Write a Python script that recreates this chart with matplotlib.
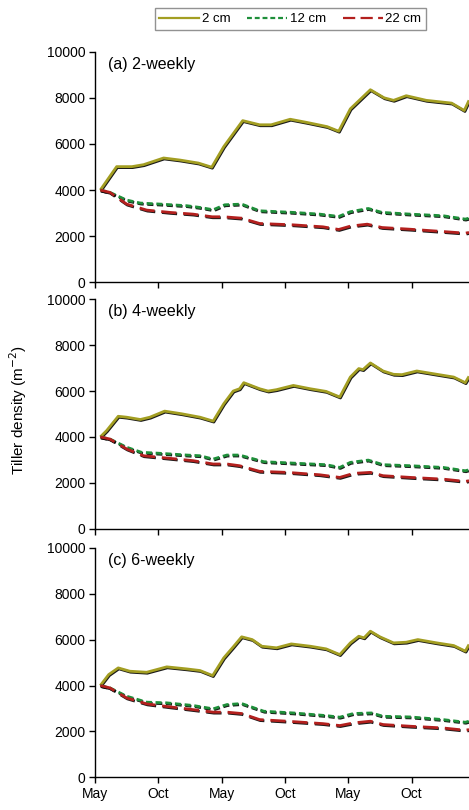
import matplotlib
matplotlib.use("Agg")
import matplotlib.pyplot as plt
import matplotlib.patheffects as pe
from matplotlib.lines import Line2D

plt.rcParams['font.family'] = ['Liberation Sans', 'DejaVu Sans']

# months since start of first May
m2a = [0.5, 2.05, 3.5, 4.6, 6.5, 8.06, 9.8, 11.06, 12.2, 14.0, 15.6, 16.7, 18.5, 20.1, 22.0, 23.1,
       24.2, 26.1, 27.4, 28.3, 29.5, 31.4, 33.8, 35.0, 35.45]
cm2a = [4000, 5015, 5015, 5100, 5390, 5300, 5170, 4990, 5880, 7010, 6830, 6830, 7070, 6930, 6750, 6550,
        7520, 8350, 8000, 7890, 8090, 7890, 7770, 7450, 7890]
m12a = [0.5, 1.4, 3.0, 4.3, 6.2, 8.7, 9.95, 11.2, 12.3, 13.9, 15.6, 18.8, 21.3, 23.1, 24.2, 25.9,
        27.2, 29.9, 33.0, 35.1, 35.45]
cm12a = [4000, 3900, 3565, 3435, 3390, 3320, 3245, 3145, 3360, 3390, 3100, 3030, 2955, 2855, 3060, 3200,
         3030, 2955, 2885, 2740, 2780]
m22a = [0.5, 1.4, 3.0, 4.9, 7.1, 9.3, 11.1, 12.2, 13.9, 15.6, 18.8, 21.6, 23.1, 24.2, 25.8, 27.2,
        29.9, 33.0, 35.1, 35.45]
cm22a = [4000, 3900, 3390, 3130, 3030, 2955, 2840, 2840, 2780, 2550, 2490, 2405, 2290, 2435, 2520, 2375,
         2300, 2200, 2130, 2160]

m2b = [0.5, 1.1, 2.2, 3.0, 4.3, 5.2, 6.6, 8.2, 9.95, 11.2, 12.2, 13.1, 13.7, 14.1, 15.6, 16.4, 17.2,
       18.8, 20.4, 21.9, 23.2, 24.2, 25.0, 25.4, 26.1, 27.3, 28.3, 29.1, 30.5, 32.4, 34.0, 35.1, 35.45]
cm2b = [4000, 4275, 4900, 4860, 4760, 4860, 5125, 5010, 4860, 4690, 5445, 6000, 6100, 6365, 6100, 6000, 6060,
        6245, 6100, 5985, 5740, 6610, 6980, 6935, 7225, 6875, 6730, 6715, 6875, 6730, 6610, 6365, 6640]
m12b = [0.5, 1.4, 3.0, 4.4, 6.2, 8.7, 9.95, 11.2, 12.5, 13.7, 16.0, 19.4, 21.9, 23.2, 24.2, 25.9,
        27.3, 29.9, 33.0, 35.1, 35.45]
cm12b = [4000, 3910, 3550, 3330, 3285, 3210, 3180, 3035, 3210, 3210, 2920, 2845, 2790, 2670, 2890, 2990,
         2790, 2745, 2670, 2525, 2570]
m22b = [0.5, 1.4, 3.0, 4.6, 6.8, 9.3, 11.2, 12.5, 13.7, 15.6, 18.2, 21.3, 23.2, 24.5, 26.1, 27.3,
        29.9, 33.0, 35.1, 35.45]
cm22b = [4000, 3910, 3475, 3180, 3080, 2965, 2820, 2820, 2745, 2500, 2455, 2350, 2235, 2410, 2455, 2310,
         2235, 2160, 2060, 2090]

m2c = [0.5, 1.3, 2.2, 3.3, 4.9, 6.8, 8.7, 9.95, 11.15, 12.2, 13.1, 13.9, 14.9, 15.8, 17.2, 18.6, 20.4,
       21.9, 23.2, 24.2, 25.0, 25.5, 26.1, 27.0, 28.3, 29.5, 30.6, 32.4, 34.0, 35.1, 35.45]
cm2c = [4000, 4480, 4770, 4625, 4580, 4815, 4725, 4655, 4435, 5205, 5685, 6125, 6005, 5715, 5645, 5815, 5715,
        5600, 5350, 5860, 6150, 6080, 6370, 6125, 5860, 5890, 6005, 5860, 5745, 5500, 5790]
m12c = [0.5, 1.4, 3.0, 4.9, 6.8, 9.3, 11.2, 12.5, 13.9, 16.0, 18.8, 21.9, 23.2, 24.5, 26.2, 27.3,
        29.9, 33.0, 35.1, 35.45]
cm12c = [4000, 3900, 3535, 3275, 3245, 3130, 2985, 3170, 3215, 2880, 2805, 2690, 2620, 2780, 2805, 2660,
         2630, 2515, 2400, 2445]
m22c = [0.5, 1.4, 3.0, 4.9, 7.1, 9.3, 11.2, 12.5, 13.9, 15.6, 18.2, 21.6, 23.2, 24.5, 26.1, 27.3,
        29.9, 33.0, 35.1, 35.45]
cm22c = [4000, 3900, 3460, 3200, 3070, 2950, 2840, 2840, 2780, 2515, 2445, 2340, 2255, 2370, 2445, 2300,
         2225, 2150, 2050, 2080]

panels = [
    ("(a) 2-weekly", (m2a, cm2a), (m12a, cm12a), (m22a, cm22a)),
    ("(b) 4-weekly", (m2b, cm2b), (m12b, cm12b), (m22b, cm22b)),
    ("(c) 6-weekly", (m2c, cm2c), (m12c, cm12c), (m22c, cm22c)),
]
tick_pos = [0, 6, 12, 18, 24, 30]
tick_lab = ['May', 'Oct', 'May', 'Oct', 'May', 'Oct']

olive = '#A39E22'
green = '#1E8F3A'
red = '#B3201E'
styles = [
    dict(color=olive, ls='-'),
    dict(color=green, ls=(0, (2.2, 1.3))),
    dict(color=red, ls=(0, (5.5, 2.4))),
]
# dark drop shadow under each line
shadow = [pe.SimpleLineShadow(offset=(0.5, -0.7), shadow_color='black', alpha=0.9), pe.Normal()]

fig = plt.figure(figsize=(4.69, 8.10), dpi=100)
# [bottom, top] in figure fractions for each panel
bounds = [(0.6515, 0.9362), (0.3473, 0.6305), (0.0404, 0.3235)]

axes = []
for (title, s2, s12, s22), (b, t) in zip(panels, bounds):
    ax = fig.add_axes([0.2026, b, 1 - 0.2026, t - b])
    for (x, y), st in zip([s2, s12, s22], styles):
        ax.plot(x, y, lw=2.0, path_effects=shadow, solid_capstyle='butt', dash_capstyle='butt',
                solid_joinstyle='round', **st)
    ax.set_xlim(0, 35.45)
    ax.set_ylim(0, 10000)
    ax.set_yticks([0, 2000, 4000, 6000, 8000, 10000])
    ax.set_xticks(tick_pos)
    ax.spines['top'].set_visible(False)
    ax.spines['right'].set_visible(False)
    for s in ('left', 'bottom'):
        ax.spines[s].set_linewidth(1.0)
    ax.tick_params(direction='out', length=4, width=1.0, labelsize=10, pad=3)
    ax.text(0.035, 0.945, title, transform=ax.transAxes, fontsize=11.5, va='center', ha='left')
    axes.append(ax)

for ax in axes[:2]:
    ax.set_xticklabels([])
axes[2].set_xticklabels(tick_lab)

fig.text(0.038, 0.494, 'Tiller density (m$^{-2}$)', rotation=90, va='center', ha='center',
         fontsize=11)

handles = [Line2D([], [], lw=1.6, **st) for st in styles]
leg = fig.legend(handles, ['2 cm', '12 cm', '22 cm'], loc='center', bbox_to_anchor=(0.619, 0.9765),
                 ncol=3, frameon=True, fancybox=False, fontsize=9.5, handlelength=3.0,
                 columnspacing=1.3, handletextpad=0.2, borderpad=0.35, borderaxespad=0)
leg.get_frame().set_edgecolor('#777777')
leg.get_frame().set_linewidth(1.0)

fig.savefig('out.png', dpi=100)
